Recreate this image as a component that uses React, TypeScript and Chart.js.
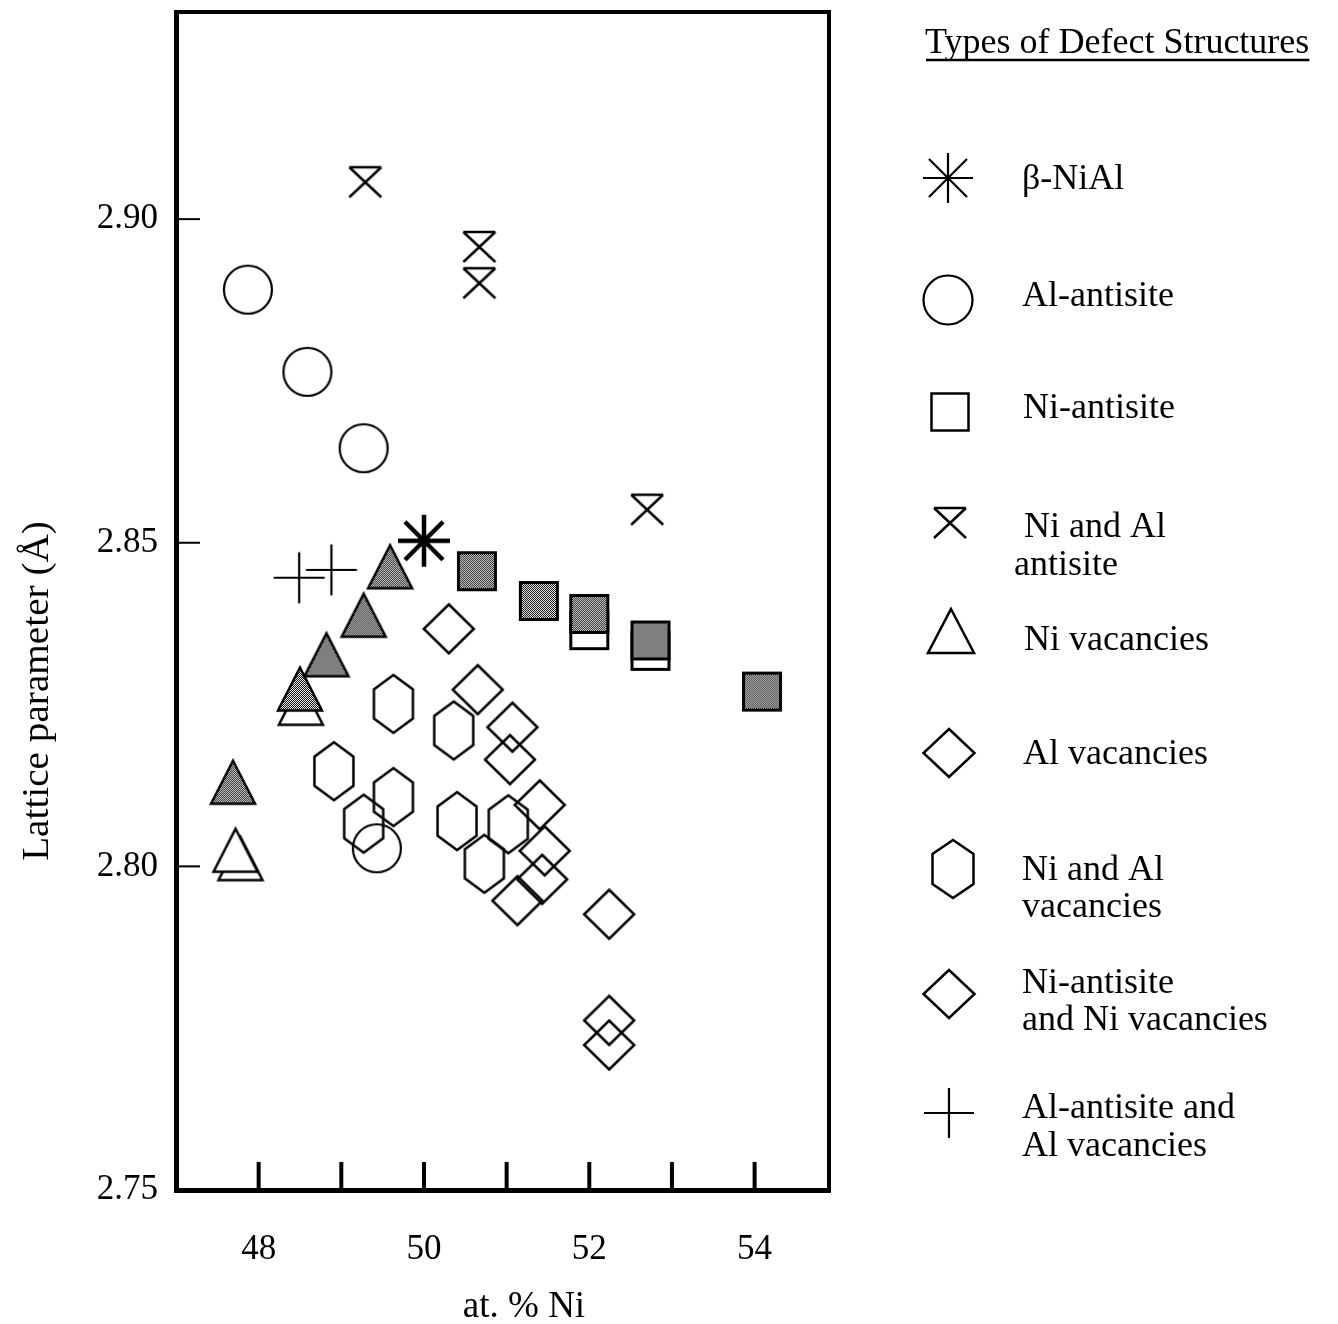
import React, { useEffect, useRef } from 'react';
import { Chart, registerables } from 'chart.js';

Chart.register(...registerables);

const FONT = '"Liberation Serif", "Times New Roman", Times, serif';

// ---------------- data ----------------
const betaNiAl = [{ x: 50.0, y: 2.8503 }];
const alAntisite = [
  { x: 47.87, y: 2.8891 },
  { x: 48.59, y: 2.8764 },
  { x: 49.27, y: 2.8646 },
  { x: 49.43, y: 2.8028 },
];
const niAntisiteCalc = [
  { x: 52.0, y: 2.8365 },
  { x: 52.74, y: 2.8333 },
];
const niAntisiteExp = [
  { x: 50.64, y: 2.8456 },
  { x: 51.39, y: 2.841 },
  { x: 52.0, y: 2.839 },
  { x: 52.74, y: 2.8349 },
  { x: 54.09, y: 2.827 },
];
const niAlAntisite = [
  { x: 49.29, y: 2.9057 },
  { x: 50.67, y: 2.8957 },
  { x: 50.67, y: 2.8901 },
  { x: 52.7, y: 2.8551 },
];
const niVacCalc = [
  { x: 47.78, y: 2.8012 },
  { x: 47.72, y: 2.8025 },
  { x: 48.51, y: 2.8252 },
];
const niVacExp = [
  { x: 47.69, y: 2.813 },
  { x: 48.5, y: 2.8274 },
  { x: 48.82, y: 2.8327 },
  { x: 49.27, y: 2.8388 },
  { x: 49.59, y: 2.8463 },
];
const alVac = [
  { x: 50.3, y: 2.8367 },
  { x: 50.65, y: 2.8273 },
  { x: 51.07, y: 2.8215 },
  { x: 51.04, y: 2.8165 },
  { x: 51.4, y: 2.8095 },
  { x: 51.46, y: 2.8024 },
];
const niAlVac = [
  { x: 49.63, y: 2.8251 },
  { x: 50.36, y: 2.821 },
  { x: 48.91, y: 2.8147 },
  { x: 49.63, y: 2.8107 },
  { x: 49.27, y: 2.8066 },
  { x: 50.4, y: 2.807 },
  { x: 50.73, y: 2.8004 },
  { x: 51.02, y: 2.8065 },
];
const niAntisiteNiVac = [
  { x: 51.43, y: 2.798 },
  { x: 51.13, y: 2.7947 },
  { x: 52.24, y: 2.7926 },
  { x: 52.24, y: 2.7762 },
  { x: 52.24, y: 2.7724 },
];
const alAntisiteAlVac = [
  { x: 48.49, y: 2.8446 },
  { x: 48.88, y: 2.8458 },
];

const xTickValues = [48, 49, 50, 51, 52, 53, 54];
const xTickLabels = ['48', '', '50', '', '52', '', '54'];
const yTickValues = [2.75, 2.8, 2.85, 2.9];
const yTickLabels = ['2.75', '2.80', '2.85', '2.90'];

const xTitle = 'at. % Ni';
const yTitle = 'Lattice parameter (Å)';
const legendTitle = 'Types of Defect Structures';
const legendLabels: string[][] = [
  ['β-NiAl'],
  ['Al-antisite'],
  ['Ni-antisite'],
  ['Ni and Al', 'antisite'],
  ['Ni vacancies'],
  ['Al vacancies'],
  ['Ni and Al', 'vacancies'],
  ['Ni-antisite', 'and Ni vacancies'],
  ['Al-antisite and', 'Al vacancies'],
];

// ---------------- marker glyphs ----------------
type Draw = (ctx: CanvasRenderingContext2D) => void;
function marker(w: number, h: number, draw: Draw): HTMLCanvasElement {
  const c = document.createElement('canvas');
  c.width = w;
  c.height = h;
  const ctx = c.getContext('2d') as CanvasRenderingContext2D;
  ctx.translate(w / 2, h / 2);
  ctx.strokeStyle = '#000';
  ctx.lineJoin = 'miter';
  draw(ctx);
  return c;
}
function checker(ctx: CanvasRenderingContext2D): CanvasPattern {
  const p = document.createElement('canvas');
  p.width = 2;
  p.height = 2;
  const pc = p.getContext('2d') as CanvasRenderingContext2D;
  pc.fillStyle = '#fff';
  pc.fillRect(0, 0, 2, 2);
  pc.fillStyle = '#000';
  pc.fillRect(0, 0, 1, 1);
  pc.fillRect(1, 1, 1, 1);
  return ctx.createPattern(p, 'repeat') as CanvasPattern;
}
function poly(ctx: CanvasRenderingContext2D, pts: number[][]) {
  ctx.beginPath();
  pts.forEach((p, i) => (i ? ctx.lineTo(p[0], p[1]) : ctx.moveTo(p[0], p[1])));
  ctx.closePath();
}
const asteriskGlyph = (lw: number, arm: number, d: number) =>
  marker(60, 60, (ctx) => {
    ctx.lineWidth = lw;
    ctx.beginPath();
    ctx.moveTo(0, -arm);
    ctx.lineTo(0, arm);
    ctx.moveTo(-arm, 0);
    ctx.lineTo(arm, 0);
    ctx.moveTo(-d, -d);
    ctx.lineTo(d, d);
    ctx.moveTo(d, -d);
    ctx.lineTo(-d, d);
    ctx.stroke();
  });
const circleGlyph = (r: number) =>
  marker(56, 56, (ctx) => {
    ctx.lineWidth = 2.2;
    ctx.beginPath();
    ctx.arc(0, 0, r, 0, Math.PI * 2);
    ctx.stroke();
  });
const squareGlyph = (s: number, filled: boolean, lw: number) =>
  marker(46, 46, (ctx) => {
    ctx.lineWidth = lw;
    ctx.beginPath();
    ctx.rect(-s / 2, -s / 2, s, s);
    ctx.fillStyle = filled ? checker(ctx) : '#fff';
    ctx.fill();
    ctx.stroke();
  });
const hourglassGlyph = () =>
  marker(40, 38, (ctx) => {
    ctx.lineWidth = 2.5;
    ctx.beginPath();
    ctx.moveTo(-16, -15);
    ctx.lineTo(16, -15);
    ctx.moveTo(-16, -15);
    ctx.lineTo(16, 15);
    ctx.moveTo(16, -15);
    ctx.lineTo(-16, 15);
    ctx.stroke();
  });
const triangleGlyph = (hw: number, hh: number, filled: boolean) =>
  marker(56, 54, (ctx) => {
    ctx.lineWidth = 2.5;
    poly(ctx, [
      [0, -hh],
      [hw, hh],
      [-hw, hh],
    ]);
    ctx.fillStyle = filled ? checker(ctx) : '#fff';
    ctx.fill();
    ctx.stroke();
  });
const diamondGlyph = (hw: number, hh: number) =>
  marker(60, 58, (ctx) => {
    ctx.lineWidth = 2.5;
    poly(ctx, [
      [0, -hh],
      [hw, 0],
      [0, hh],
      [-hw, 0],
    ]);
    ctx.stroke();
  });
const hexGlyph = (hw: number, hh: number, sh: number) =>
  marker(48, 66, (ctx) => {
    ctx.lineWidth = 2.5;
    poly(ctx, [
      [0, -hh],
      [hw, -sh],
      [hw, sh],
      [0, hh],
      [-hw, sh],
      [-hw, -sh],
    ]);
    ctx.stroke();
  });
const plusGlyph = (a: number) =>
  marker(58, 58, (ctx) => {
    ctx.lineWidth = 2.2;
    ctx.beginPath();
    ctx.moveTo(-a, 0);
    ctx.lineTo(a, 0);
    ctx.moveTo(0, -a);
    ctx.lineTo(0, a);
    ctx.stroke();
  });

export default function App() {
  const ref = useRef<HTMLCanvasElement | null>(null);

  useEffect(() => {
    if (!ref.current) return;

    const m = {
      asterisk: asteriskGlyph(4.5, 26, 19),
      circle: circleGlyph(24),
      sqFilled: squareGlyph(37, true, 3),
      sqOpen: squareGlyph(37, false, 3),
      hourglass: hourglassGlyph(),
      triFilled: triangleGlyph(22, 21.5, true),
      triOpen: triangleGlyph(22, 21.5, false),
      diamond: diamondGlyph(25, 24.5),
      hex: hexGlyph(19.5, 29, 14.5),
      plus: plusGlyph(25.5),
    };
    const legendMarks = [
      asteriskGlyph(2.2, 25, 19),
      circleGlyph(24.5),
      squareGlyph(37, false, 2.5),
      hourglassGlyph(),
      triangleGlyph(23, 22, false),
      diamondGlyph(25.5, 24),
      hexGlyph(20.5, 29, 15),
      diamondGlyph(25.5, 24),
      plusGlyph(25),
    ];
    const legendMarkPos = [
      [948, 178],
      [948, 300],
      [950, 412],
      [950, 523],
      [951, 631],
      [949, 753],
      [953, 869],
      [949, 994],
      [949, 1113],
    ];
    const legendTextPos: number[][][] = [
      [[1022, 189]],
      [[1022, 306]],
      [[1023, 418]],
      [
        [1024, 537],
        [1014, 575],
      ],
      [[1024, 650]],
      [[1023, 764]],
      [
        [1022, 880],
        [1022, 917],
      ],
      [
        [1022, 993],
        [1022, 1030],
      ],
      [
        [1022, 1118],
        [1022, 1156],
      ],
    ];

    const framePlugin = {
      id: 'frame',
      beforeDatasetsDraw(chart: any) {
        const { ctx, chartArea: a, scales } = chart;
        ctx.save();
        ctx.strokeStyle = '#000';
        ctx.lineCap = 'butt';
        // x ticks (inward)
        ctx.lineWidth = 4;
        for (const t of scales.x.ticks) {
          const px = scales.x.getPixelForValue(t.value);
          ctx.beginPath();
          ctx.moveTo(px, a.bottom);
          ctx.lineTo(px, a.bottom - 28);
          ctx.stroke();
        }
        // y ticks (inward)
        ctx.lineWidth = 2;
        for (const t of scales.y.ticks) {
          if (t.value <= scales.y.min) continue;
          const py = scales.y.getPixelForValue(t.value);
          ctx.beginPath();
          ctx.moveTo(a.left, py);
          ctx.lineTo(a.left + 24, py);
          ctx.stroke();
        }
        // frame
        ctx.lineWidth = 5;
        ctx.beginPath();
        ctx.moveTo(a.left + 0.5, a.top - 2);
        ctx.lineTo(a.left + 0.5, a.bottom + 3);
        ctx.moveTo(a.left - 2, a.bottom + 0.5);
        ctx.lineTo(a.right + 2, a.bottom + 0.5);
        ctx.stroke();
        ctx.lineWidth = 4;
        ctx.beginPath();
        ctx.moveTo(a.right, a.top - 2);
        ctx.lineTo(a.right, a.bottom + 3);
        ctx.moveTo(a.left - 2, a.top);
        ctx.lineTo(a.right + 2, a.top);
        ctx.stroke();
        ctx.restore();
      },
      afterDraw(chart: any) {
        const { ctx } = chart;
        ctx.save();
        ctx.fillStyle = '#000';
        ctx.strokeStyle = '#000';
        ctx.textBaseline = 'alphabetic';
        // axis titles
        ctx.font = `37px ${FONT}`;
        ctx.textAlign = 'center';
        ctx.fillText(xTitle, 524, 1317);
        ctx.save();
        ctx.translate(48, 691);
        ctx.rotate(-Math.PI / 2);
        ctx.scale(1.06, 1);
        ctx.fillText(yTitle, 0, 0);
        ctx.restore();
        // legend
        ctx.textAlign = 'left';
        ctx.font = `36px ${FONT}`;
        ctx.fillText(legendTitle, 925, 53);
        const tw = ctx.measureText(legendTitle).width;
        ctx.lineWidth = 2.5;
        ctx.beginPath();
        ctx.moveTo(926, 60);
        ctx.lineTo(925 + tw, 60);
        ctx.stroke();
        legendLabels.forEach((lines, i) => {
          const g = legendMarks[i];
          const [cx, cy] = legendMarkPos[i];
          ctx.drawImage(g, Math.round(cx - g.width / 2), Math.round(cy - g.height / 2));
          lines.forEach((s, j) => {
            const [tx, ty] = legendTextPos[i][j];
            ctx.fillText(s, tx, ty);
          });
        });
        ctx.restore();
      },
    };

    const ds = (label: string, data: any[], style: HTMLCanvasElement, order: number) => ({
      label,
      data,
      pointStyle: style,
      pointRadius: 3,
      pointHoverRadius: 3,
      showLine: false,
      order,
    });

    const chart = new Chart(ref.current, {
      type: 'scatter',
      data: {
        datasets: [
          ds('β-NiAl', betaNiAl, m.asterisk, 1),
          ds('Al-antisite', alAntisite, m.circle, 1),
          ds('Ni-antisite', niAntisiteCalc, m.sqOpen, 6),
          ds('Ni-antisite (filled)', niAntisiteExp, m.sqFilled, 5),
          ds('Ni and Al antisite', niAlAntisite, m.hourglass, 1),
          ds('Ni vacancies', niVacCalc, m.triOpen, 6),
          ds('Ni vacancies (filled)', niVacExp, m.triFilled, 5),
          ds('Al vacancies', alVac, m.diamond, 1),
          ds('Ni and Al vacancies', niAlVac, m.hex, 1),
          ds('Ni-antisite and Ni vacancies', niAntisiteNiVac, m.diamond, 1),
          ds('Al-antisite and Al vacancies', alAntisiteAlVac, m.plus, 1),
        ],
      },
      options: {
        animation: false,
        responsive: true,
        maintainAspectRatio: false,
        events: [],
        layout: { padding: { left: 0, top: 12, right: 509, bottom: 0 } },
        plugins: {
          legend: { display: false },
          tooltip: { enabled: false },
          title: { display: false },
        },
        scales: {
          x: {
            type: 'linear',
            min: 47.0,
            max: 54.9,
            grid: { display: false, drawTicks: false },
            border: { display: false },
            afterBuildTicks: (axis: any) => {
              axis.ticks = xTickValues.map((v) => ({ value: v }));
            },
            afterFit: (scale: any) => {
              scale.height = 134;
              scale.paddingLeft = 0;
              scale.paddingRight = 0;
            },
            ticks: {
              autoSkip: false,
              maxRotation: 0,
              padding: 39,
              color: '#000',
              font: { family: FONT, size: 35 },
              callback: (_v: any, i: number) => xTickLabels[i],
            },
          },
          y: {
            type: 'linear',
            min: 2.75,
            max: 2.932,
            grid: { display: false, drawTicks: false },
            border: { display: false },
            afterBuildTicks: (axis: any) => {
              axis.ticks = yTickValues.map((v) => ({ value: v }));
            },
            afterFit: (scale: any) => {
              scale.width = 176;
              scale.paddingTop = 0;
              scale.paddingBottom = 0;
            },
            ticks: {
              autoSkip: false,
              padding: 18,
              color: '#000',
              font: { family: FONT, size: 35 },
              callback: (_v: any, i: number) => yTickLabels[i],
            },
          },
        },
      },
      plugins: [framePlugin],
    } as any);

    return () => chart.destroy();
  }, []);

  return (
    <div
      style={{
        position: 'absolute',
        left: 0,
        top: 0,
        width: 1338,
        height: 1324,
        background: '#fff',
      }}
    >
      <canvas ref={ref} />
    </div>
  );
}
